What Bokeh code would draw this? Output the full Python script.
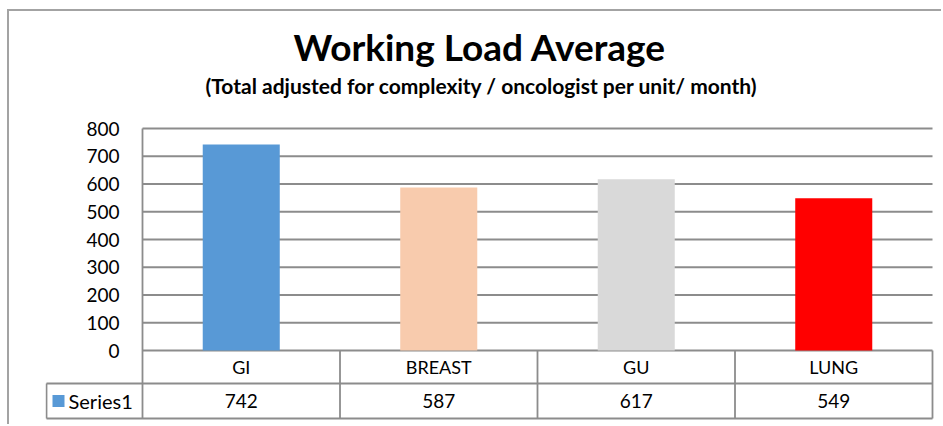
from bokeh.plotting import figure
from bokeh.models import Range1d, FixedTicker, Title
from bokeh.embed import file_html
from bokeh.resources import INLINE
from bokeh.core.properties import value

# ---------------- data ----------------
categories = ["GI", "BREAST", "GU", "LUNG"]
series_name = "Series1"
values = [742, 587, 617, 549]
bar_colors = ["#5899d6", "#f8cbad", "#d9d9d9", "#ff0000"]
y_ticks = [0, 100, 200, 300, 400, 500, 600, 700, 800]
title_text = "Working Load Average"
subtitle_text = "(Total adjusted for complexity / oncologist per unit/ month)"

# ---------------- style / layout constants ----------------
FONT = "Lato"
GRID = "#8c8c8c"
CAT_PX = 197.5        # pixels per category column
PX_PER_UNIT = 0.2775  # pixels per y unit
ROW1 = -33 / PX_PER_UNIT   # bottom of header row (y units)
ROW2 = -68 / PX_PER_UNIT   # bottom of data row (y units)
KEY_L = -96 / CAT_PX       # left edge of the "Series1" cell (x units)

n = len(categories)

p = figure(width=934, height=415,
           x_range=Range1d(-97 / CAT_PX, 792 / CAT_PX),
           y_range=Range1d(-71 / PX_PER_UNIT, 800 + 3 / PX_PER_UNIT),
           output_backend="svg", toolbar_location=None,
           x_axis_location=None,
           min_border_left=36, min_border_right=9,
           min_border_top=114, min_border_bottom=5)
p.styles = {"margin-left": "7px", "margin-top": "9px",
            "border-top": "2px solid #a3a3a3", "border-left": "2px solid #a3a3a3"}
p.outline_line_color = None
p.xgrid.grid_line_color = None
p.ygrid.grid_line_color = None

# spacer between subtitle and plot area
p.add_layout(Title(text=" ", text_font_size="1px", standoff=25), "above")
p.add_layout(Title(text=subtitle_text, align="left", offset=160, text_font=FONT,
                   text_font_size="21px", text_font_style="bold",
                   text_color="black", standoff=0), "above")
p.add_layout(Title(text=title_text, align="left", offset=248, text_font=FONT,
                   text_font_size="37px", text_font_style="bold",
                   text_color="black", standoff=4), "above")

# y axis (labels pulled inside so they sit left of the plot area)
yaxis = p.yaxis[0]
yaxis.ticker = FixedTicker(ticks=y_ticks)
yaxis.axis_line_color = None
yaxis.major_tick_line_color = None
yaxis.minor_tick_line_color = None
yaxis.major_label_text_font = FONT
yaxis.major_label_text_font_size = "19px"
yaxis.major_label_text_color = "black"
yaxis.major_label_standoff = -80

# horizontal gridlines over the plot area only
p.segment(x0=[0] * len(y_ticks), x1=[n] * len(y_ticks), y0=y_ticks, y1=y_ticks,
          line_color=GRID, line_width=1.8)

# bars
centers = [i + 0.5 for i in range(n)]
p.vbar(x=centers, top=values, bottom=0, width=0.39,
       fill_color=bar_colors, line_color=None)

# ---------------- data table ----------------
p.segment(x0=[0], x1=[0], y0=[ROW2], y1=[y_ticks[-1]], line_color=GRID, line_width=1.8)
vx = list(range(1, n + 1))
p.segment(x0=vx, x1=vx, y0=[ROW2] * n, y1=[0] * n, line_color=GRID, line_width=1.8)
p.segment(x0=[KEY_L], x1=[KEY_L], y0=[ROW2], y1=[ROW1], line_color=GRID, line_width=1.8)
p.segment(x0=[KEY_L, KEY_L], x1=[n, n], y0=[ROW1, ROW2], y1=[ROW1, ROW2],
          line_color=GRID, line_width=1.8)

p.text(x=centers, y=[ROW1 / 2] * n, text=categories, text_align="center",
       text_baseline="middle", text_font=value(FONT), text_font_size="18px",
       text_color="black")
p.text(x=centers, y=[(ROW1 + ROW2) / 2] * n, text=[str(v) for v in values],
       text_align="center", text_baseline="middle", text_font=value(FONT),
       text_font_size="19px", text_color="black")
p.scatter(x=[KEY_L + 12 / CAT_PX], y=[(ROW1 + ROW2) / 2], marker="square", size=12,
          fill_color=bar_colors[0], line_color=None)
p.text(x=[KEY_L + 22 / CAT_PX], y=[(ROW1 + ROW2) / 2], text=[series_name],
       text_align="left", text_baseline="middle", text_font=value(FONT),
       text_font_size="20px", text_color="black")

open("out.html", "w").write(file_html(p, INLINE))
